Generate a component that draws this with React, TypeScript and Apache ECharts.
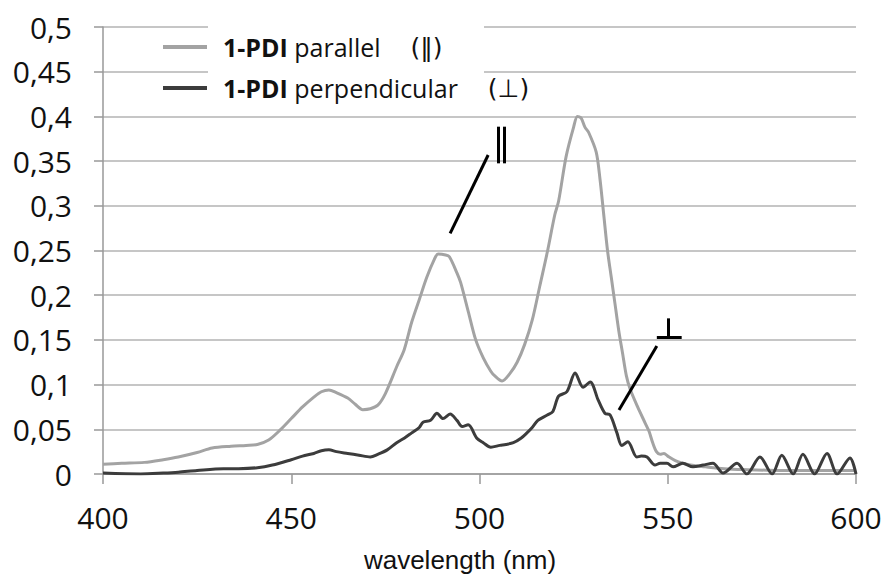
import React, { useEffect, useRef } from "react";
import * as echarts from "echarts";

// wavelength (nm) / absorbance pairs
const parWl = [400, 405, 411, 416, 420, 425, 429, 434, 438, 441, 444, 447, 450, 453, 456, 458, 460, 462, 465, 467, 469, 471, 473, 475, 478, 480, 482, 484, 486, 488, 489, 491, 492, 494, 495, 497, 499, 501, 503, 504, 506, 508, 510, 512, 514, 516, 518, 520, 521, 523, 525, 526, 527, 528, 529, 531, 532, 533, 534, 535, 536, 537, 538, 539, 540, 542, 544, 545, 546, 547, 548, 549, 550, 552, 554, 556, 558, 560, 565, 570, 580, 590, 600];
const parVal = [0.011, 0.012, 0.013, 0.016, 0.019, 0.024, 0.029, 0.031, 0.032, 0.033, 0.038, 0.049, 0.062, 0.075, 0.086, 0.092, 0.094, 0.091, 0.085, 0.078, 0.072, 0.073, 0.077, 0.09, 0.12, 0.139, 0.17, 0.195, 0.22, 0.24, 0.246, 0.245, 0.243, 0.225, 0.214, 0.182, 0.15, 0.13, 0.115, 0.11, 0.104, 0.112, 0.125, 0.145, 0.172, 0.21, 0.248, 0.29, 0.305, 0.355, 0.388, 0.4, 0.398, 0.388, 0.382, 0.36, 0.33, 0.29, 0.25, 0.22, 0.19, 0.16, 0.135, 0.11, 0.095, 0.075, 0.057, 0.048, 0.035, 0.025, 0.022, 0.023, 0.02, 0.015, 0.012, 0.01, 0.009, 0.008, 0.006, 0.005, 0.004, 0.004, 0.004];

const perpWl = [400, 410, 416, 420, 425, 432, 436, 441, 445, 450, 453, 456, 458, 460, 462, 465, 468, 471, 473, 475.5, 478, 480, 482, 484, 485, 487, 488.7, 490.3, 492.2, 494, 495.4, 497, 499.3, 501, 503, 505.4, 507, 509, 511, 512.6, 514, 515.5, 518, 519.5, 521, 523.2, 525.4, 527.5, 529.4, 531.5, 533.3, 534.7, 536.5, 537.8, 539.4, 541.8, 543, 544.5, 546.6, 548, 549.8, 551.4, 554, 556.7, 559.4, 562, 564.7, 568.4, 571, 574.5, 577.7, 580.3, 583.3, 585.9, 589, 592.3, 595, 598.4, 600];
const perpVal = [0.001, 0.0, 0.001, 0.002, 0.004, 0.006, 0.006, 0.007, 0.01, 0.016, 0.02, 0.023, 0.026, 0.027, 0.025, 0.023, 0.021, 0.019, 0.022, 0.027, 0.035, 0.04, 0.046, 0.052, 0.058, 0.06, 0.068, 0.062, 0.067, 0.06, 0.053, 0.055, 0.04, 0.035, 0.03, 0.032, 0.033, 0.035, 0.04, 0.046, 0.052, 0.06, 0.066, 0.07, 0.087, 0.092, 0.113, 0.097, 0.103, 0.083, 0.068, 0.066, 0.046, 0.032, 0.036, 0.019, 0.02, 0.019, 0.01, 0.012, 0.012, 0.008, 0.012, 0.008, 0.01, 0.012, 0.001, 0.012, 0.0, 0.019, 0.0, 0.021, 0.0, 0.022, 0.0, 0.023, 0.0, 0.018, 0.0];

const seriesNames = ["1-PDI parallel", "1-PDI perpendicular"];
const yTicks = [0, 0.05, 0.1, 0.15, 0.2, 0.25, 0.3, 0.35, 0.4, 0.45, 0.5];
const xTicks = [400, 450, 500, 550, 600];

// annotation marks (data coordinates)
const parAnnot = [
  [[492.2, 0.2692], [502.3, 0.3568]],
  [[505.0, 0.3885], [505.0, 0.3475]],
  [[506.6, 0.3885], [506.6, 0.3475]],
];
const perpAnnot = [
  [[537.05, 0.0716], [547.1, 0.1432]],
  [[550.2, 0.1741], [550.2, 0.1529]],
  [[547.1, 0.1529], [553.7, 0.1529]],
];

const zip = (a: number[], b: number[]) => a.map((x, i) => [x, b[i]]);

export default function App() {
  const ref = useRef<HTMLDivElement>(null);
  useEffect(() => {
    if (!ref.current) return;
    const chart = echarts.init(ref.current, null, { renderer: "svg" });
    const markLineFrom = (segs: number[][][]) => ({
      silent: true,
      symbol: ["none", "none"],
      label: { show: false },
      lineStyle: { color: "#000", width: 3, type: "solid" },
      emphasis: { disabled: true },
      data: segs.map((s) => [{ coord: s[0] }, { coord: s[1] }]),
    });
    chart.setOption({
      animation: false,
      backgroundColor: "#fff",
      textStyle: { fontFamily: "Open Sans" },
      grid: {
        left: 103,
        right: 28,
        top: 27,
        bottom: 102,
        containLabel: false,
        outerBoundsMode: "none",
      },
      legend: {
        data: seriesNames,
        orient: "vertical",
        left: 158,
        top: 28,
        itemWidth: 44,
        itemHeight: 4,
        itemGap: 13,
        icon: "rect",
        z: 5,
        formatter: (name: string) =>
          name === seriesNames[0]
            ? "{b|1-PDI} parallel{s|(‖)}"
            : "{b|1-PDI} perpendicular{s|(⊥)}",
        textStyle: {
          fontFamily: "Open Sans",
          fontSize: 25,
          color: "#111",
          lineHeight: 28,
          padding: [0, 0, 0, 11],
          rich: {
            b: { fontFamily: "Open Sans", fontWeight: "bold", fontSize: 25, color: "#111", lineHeight: 28 },
            s: { fontFamily: "DejaVu Sans", fontSize: 25, color: "#111", lineHeight: 28, padding: [0, 0, 0, 30] },
          },
        },
      },
      graphic: [
        {
          type: "rect",
          z: 3,
          silent: true,
          shape: { x: 208, y: 18, width: 276, height: 88 },
          style: { fill: "#fff" },
        },
      ],
      xAxis: {
        type: "value",
        min: 400,
        max: 600,
        interval: 50,
        name: "wavelength (nm)",
        nameLocation: "middle",
        nameGap: 73,
        nameTextStyle: {
          fontFamily: "Liberation Sans",
          fontSize: 26,
          color: "#111",
          padding: [0, 39, 0, 0],
        },
        axisLine: { show: true, onZero: false, lineStyle: { color: "#999", width: 1.5 } },
        axisTick: { show: true, length: 10, lineStyle: { color: "#999", width: 1.5 } },
        splitLine: { show: false },
        axisLabel: {
          fontFamily: "Open Sans",
          fontSize: 30,
          color: "#111",
          margin: 28,
          customValues: xTicks,
        },
      },
      yAxis: {
        type: "value",
        min: 0,
        max: 0.5,
        interval: 0.05,
        axisLine: { show: true, lineStyle: { color: "#999", width: 1.5 } },
        axisTick: { show: true, length: 9, lineStyle: { color: "#999", width: 1.5 } },
        splitLine: { show: true, lineStyle: { color: "#b3b3b3", width: 1.5 } },
        axisLabel: {
          fontFamily: "Open Sans",
          fontSize: 30,
          color: "#111",
          margin: 31,
          formatter: (v: number) => {
            const t = yTicks.find((k) => Math.abs(k - v) < 1e-9);
            return String(t !== undefined ? t : v).replace(".", ",");
          },
        },
      },
      series: [
        {
          name: seriesNames[0],
          type: "line",
          data: zip(parWl, parVal),
          showSymbol: false,
          smooth: 0.3,
          lineStyle: { color: "#a3a3a3", width: 3 },
          itemStyle: { color: "#a3a3a3" },
          z: 2,
          markLine: markLineFrom(parAnnot),
        },
        {
          name: seriesNames[1],
          type: "line",
          data: zip(perpWl, perpVal),
          showSymbol: false,
          smooth: 0.3,
          lineStyle: { color: "#3c3c3c", width: 3 },
          itemStyle: { color: "#3c3c3c" },
          z: 3,
          markLine: markLineFrom(perpAnnot),
        },
      ],
    });
    return () => chart.dispose();
  }, []);
  return <div ref={ref} style={{ width: 884, height: 576, position: "absolute", left: 0, top: 0 }} />;
}
